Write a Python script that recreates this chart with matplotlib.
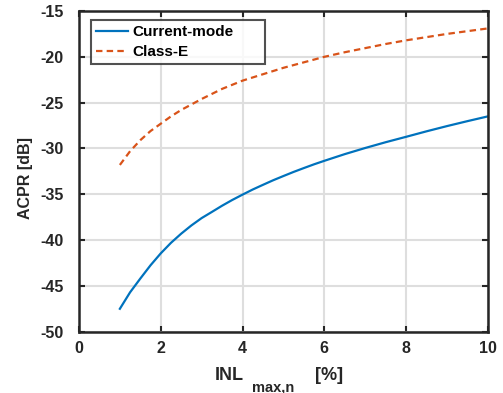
import matplotlib
matplotlib.use("Agg")
import matplotlib.pyplot as plt

x_vals = [1, 1.25, 1.5, 1.75, 2, 2.25, 2.5, 2.75, 3, 3.25, 3.5, 3.75, 4, 4.25, 4.5, 4.75,
          5, 5.25, 5.5, 5.75, 6, 6.5, 7, 7.5, 8, 8.5, 9, 9.5, 10]
current_mode = [-47.5, -45.7, -44.2, -42.75, -41.45, -40.3, -39.3, -38.4, -37.6, -36.93,
                -36.25, -35.62, -35.04, -34.48, -33.97, -33.47, -33.01, -32.56, -32.14,
                -31.73, -31.35, -30.62, -29.95, -29.32, -28.73, -28.13, -27.56, -27.02,
                -26.5]
class_e = [-31.8, -30.3, -29.1, -28.1, -27.3, -26.5, -25.8, -25.2, -24.6, -24.05,
           -23.5, -23.05, -22.6, -22.25, -21.9, -21.55, -21.2, -20.9, -20.6, -20.3,
           -20.0, -19.5, -19.05, -18.6, -18.2, -17.85, -17.5, -17.2, -16.9]
labels = ["Current-mode", "Class-E"]
x_ticks = [0, 2, 4, 6, 8, 10]
y_ticks = [-50, -45, -40, -35, -30, -25, -20, -15]

plt.rcParams['font.family'] = ['Liberation Sans', 'DejaVu Sans']
plt.rcParams['font.weight'] = 'bold'
plt.rcParams['axes.unicode_minus'] = False

fig = plt.figure(figsize=(5.03, 3.93), dpi=100)
ax = fig.add_axes([0.157, 0.156, 0.813, 0.816])

ax.plot(x_vals, current_mode, color=(0, 0.447, 0.741), lw=1.6, label=labels[0])
ax.plot(x_vals, class_e, color=(0.85, 0.325, 0.098), lw=1.6, ls=(0, (2.9, 1.9)), label=labels[1])

ax.set_xlim(0, 10)
ax.set_ylim(-50, -15)
ax.set_xticks(x_ticks)
ax.set_yticks(y_ticks)
ax.grid(True, color='#dedede', lw=1.5)
ax.set_axisbelow(True)
for s in ax.spines.values():
    s.set_linewidth(1.8)
    s.set_color('#262626')
ax.tick_params(direction='in', length=4, width=1.5, top=True, right=True,
               labelsize=11.5, colors='#262626')
ax.tick_params(axis='y', pad=11)
ax.tick_params(axis='x', pad=7)
for lab in ax.get_xticklabels() + ax.get_yticklabels():
    lab.set_fontweight('bold')
    lab.set_color('#262626')

ax.set_ylabel('ACPR [dB]', fontsize=11.5, fontweight='bold', color='#262626')
ax.yaxis.set_label_coords(-0.112, 0.48)
ax.text(0.333, -0.152, 'INL', transform=ax.transAxes, fontsize=13, fontweight='bold',
        color='#262626', ha='left', va='baseline')
ax.text(0.422, -0.186, 'max,n', transform=ax.transAxes, fontsize=10.5, fontweight='bold',
        color='#262626', ha='left', va='baseline')
ax.text(0.577, -0.152, '[%]', transform=ax.transAxes, fontsize=13, fontweight='bold',
        color='#262626', ha='left', va='baseline')

leg = ax.legend(loc='upper left', bbox_to_anchor=(0.029, 0.972, 0.425, 0.0), mode='expand',
                fontsize=11, frameon=True, fancybox=False, edgecolor='#262626',
                handlelength=2.1, handletextpad=0.3, borderpad=0.35, labelspacing=0.38,
                borderaxespad=0)
leg.get_frame().set_linewidth(1.5)
for t in leg.get_texts():
    t.set_fontweight('bold')

fig.savefig('out.png', dpi=100)
